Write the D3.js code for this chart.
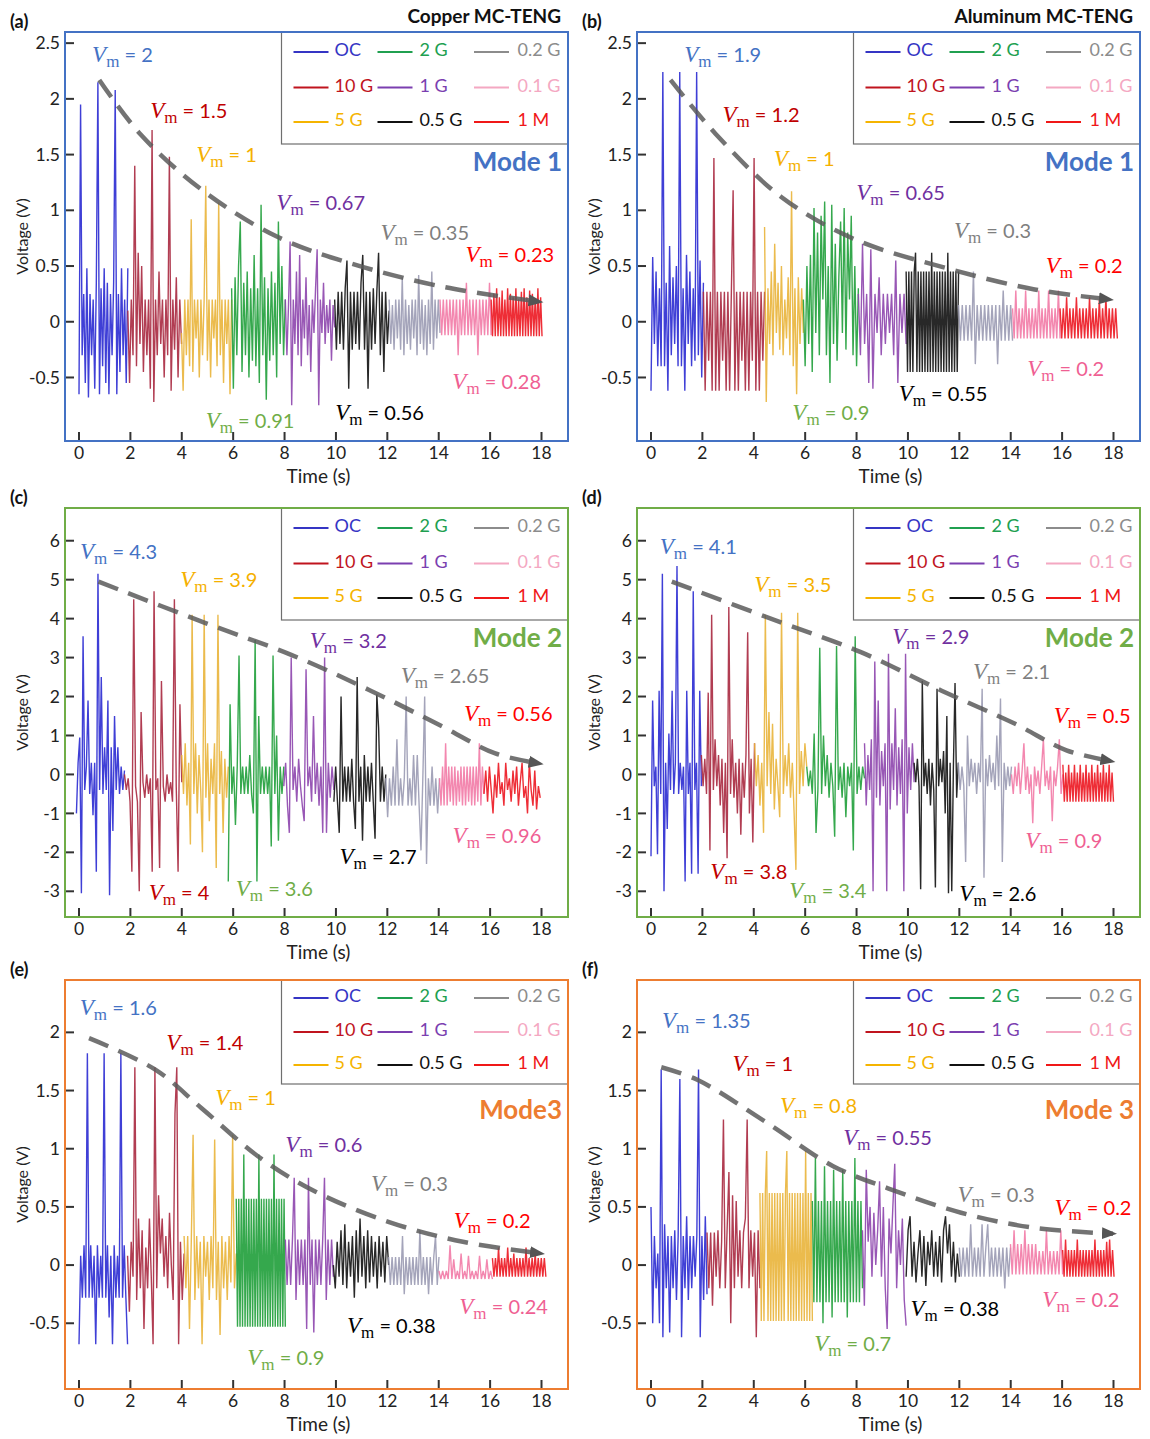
<!DOCTYPE html>
<html>
<head>
<meta charset="utf-8">
<title>MC-TENG voltage</title>
<script src="https://cdnjs.cloudflare.com/ajax/libs/d3/7.8.5/d3.min.js"></script>
<style>
    body { margin: 0; background: #fff; }
    svg text { font-family: 'Lato', 'Open Sans', sans-serif; }
</style>
</head>
<body>
<div id="chart"></div>
<script>
// ---------- shared categories / ticks ----------
const segNames = ["OC", "10 G", "5 G", "2 G", "1 G", "0.5 G", "0.2 G", "0.1 G", "1 M"];
const sigColors = ["#2a2ad2", "#a8283f", "#e9b43a", "#1f9e3a", "#8d45ad", "#111111", "#9a9ab2", "#f27aa6", "#ec1620"];
const legColors = ["#3535c4", "#c0141e", "#f5b400", "#20a050", "#7b3fb0", "#111111", "#8c8c8c", "#f4a8c2", "#f01818"];
const noteColors = ["#4472c4", "#c00000", "#f5b000", "#70ad47", "#7030a0", "#000000", "#7f7f7f", "#ef5f93", "#ff0000"];
const xTicks = [0, 2, 4, 6, 8, 10, 12, 14, 16, 18];
const yTicks1 = [-0.5, 0, 0.5, 1, 1.5, 2, 2.5];
const yTicks2 = [-3, -2, -1, 0, 1, 2, 3, 4, 5, 6];
const yTicks3 = [-0.5, 0, 0.5, 1, 1.5, 2];

// ---------- (a) Copper, Mode 1 ----------
const edgesA = [0, 1.9, 3.99, 5.94, 8.03, 9.95, 12.07, 14.05, 16.04, 18.02];
const sigA = [
    [-0.65, 1.95, -0.3, 0.25, -0.55, 0.48, -0.68, 0.25, -0.3, 0.2, -0.6, 0.35, 2.15, -0.65, 0.3, -0.4, 0.48, -0.55, 0.35, -0.65, 0.25, -0.3, 0.35, 2.08, -0.65, 0.25, -0.45, 0.48, -0.3, 0.2, -0.55, 0.48],
    [0.1, -0.55, 0.2, -0.3, 1.4, -0.4, 0.62, -0.2, 0.5, -0.45, 0.2, -0.3, 0.2, -0.6, 1.72, -0.72, 0.2, -0.3, 0.45, -0.2, 0.2, -0.5, 0.2, -0.3, 1.48, -0.62, 0.2, -0.25, 0.4, -0.5, 0.2, -0.2],
    [-0.1, -0.62, 0.2, -0.3, 0.2, -0.4, 0.92, -0.45, 0.2, -0.15, 0.2, -0.5, 0.2, -0.3, 0.2, 1.22, -0.35, 0.2, -0.5, 0.2, -0.15, 0.2, -0.4, 1.07, -0.3, 0.2, -0.55, 0.2, -0.2, 0.2, -0.65, 0.2],
    [0.3, -0.6, 0.4, -0.3, 0.5, 0.9, -0.45, 0.35, -0.3, 0.45, -0.5, 0.3, -0.35, 0.6, -0.4, 0.3, -0.55, 1.05, -0.3, 0.4, -0.7, 0.3, -0.35, 0.45, -0.3, 0.35, -0.5, 0.9, -0.2, 0.5, -0.3, 0.2],
    [0.2, -0.3, 0.15, 0.72, -0.75, 0.2, -0.2, 0.45, -0.3, 0.6, -0.4, 0.2, -0.15, 0.4, -0.3, 0.15, -0.45, 0.2, -0.1, 0.3, 0.65, -0.75, 0.2, -0.1, 0.35, -0.2, 0.15, -0.1, 0.2, -0.35, 0.15, -0.05],
    [0.2, -0.25, 0.27, -0.2, 0.27, -0.25, 0.3, 0.55, -0.6, 0.27, -0.25, 0.27, -0.2, 0.27, -0.25, 0.35, 0.6, -0.25, 0.27, -0.6, 0.27, -0.25, 0.3, -0.2, 0.27, 0.62, -0.3, 0.27, -0.45, 0.27, -0.2, 0.1],
    [0.2, -0.2, 0.15, -0.25, 0.2, -0.15, 0.2, -0.25, 0.4, -0.3, 0.2, -0.2, 0.15, -0.25, 0.2, -0.15, 0.2, -0.3, 0.42, -0.2, 0.2, -0.25, 0.15, -0.3, 0.2, -0.2, 0.45, -0.25, 0.2, -0.15, 0.2, -0.1],
    [0.2, -0.12, 0.2, -0.12, 0.2, -0.12, 0.2, -0.12, 0.2, -0.12, 0.2, -0.3, 0.2, -0.12, 0.2, -0.12, 0.35, -0.12, 0.2, -0.12, 0.2, -0.12, 0.2, -0.3, 0.2, -0.12, 0.2, -0.12, 0.2, -0.12, 0.35, -0.12],
    [0.2, -0.13, 0.25, -0.13, 0.3, -0.13, 0.22, -0.13, 0.28, -0.13, 0.2, -0.13, 0.3, -0.13, 0.25, -0.13, 0.22, -0.13, 0.3, -0.13, 0.2, -0.13, 0.27, -0.13, 0.3, -0.13, 0.22, -0.13, 0.28, -0.13, 0.25, -0.13, 0.2, -0.13, 0.3, -0.13, 0.22, -0.13]
];
const trendA = [[0.79, 2.17], [2.4, 1.68], [4.86, 1.17], [7.74, 0.76], [10.63, 0.52], [14.24, 0.31], [17.92, 0.18]];
const vmA = ["2", "1.5", "1", "0.91", "0.67", "0.56", "0.35", "0.28", "0.23"];

// ---------- (b) Aluminum, Mode 1 ----------
const edgesB = [0, 2.04, 4.42, 5.93, 8.07, 9.93, 11.97, 14.07, 15.92, 18.15];
const sigB = [
    [-0.62, 0.58, -0.2, 0.45, -0.4, 0.3, -0.4, 2.24, -0.4, 0.35, -0.62, 0.68, -0.3, 0.4, -0.2, 0.5, -0.4, 2.24, -0.4, 0.3, -0.62, 0.6, -0.2, 0.45, -0.4, 0.3, -0.35, 2.24, -0.3, 0.55, -0.5, 0.35],
    [0.27, -0.62, 0.27, -0.35, 0.27, -0.62, 1.47, -0.62, 0.27, -0.62, 0.27, -0.35, 0.27, -0.62, 0.27, -0.62, 0.27, 1.18, -0.62, 0.27, -0.62, 0.27, -0.35, 0.27, -0.62, 0.27, -0.62, 0.27, -0.35, 1.47, -0.62, 0.27, -0.62, 0.27, -0.35, 0.27],
    [0.85, -0.72, 0.3, -0.2, 0.45, -0.3, 0.7, -0.1, 0.35, -0.25, 0.5, -0.3, 0.2, -0.15, 0.4, -0.3, 1.17, -0.4, 0.3, -0.65, 0.4, -0.2, 0.3, -0.1],
    [0.2, -0.4, 0.5, -0.2, 0.6, -0.45, 1.02, -0.1, 0.8, -0.3, 0.95, 0.2, 1.08, -0.3, 0.5, -0.55, 1.05, -0.2, 0.7, -0.35, 0.4, 0.9, -0.1, 1.02, -0.25, 0.8, 0.2, 0.95, -0.3, 0.5, -0.4, 0.3],
    [0.25, -0.3, 0.7, -0.2, 0.25, -0.55, 0.65, -0.6, 0.25, -0.1, 0.4, -0.3, 0.25, -0.2, 0.25, -0.1, 0.25, -0.3, 0.55, -0.55, 0.25, -0.1, 0.25, -0.2],
    [0.45, -0.45, 0.45, -0.45, 0.45, -0.45, 0.45, 0.62, -0.45, 0.45, -0.45, 0.45, -0.45, 0.45, -0.45, 0.45, -0.45, 0.45, -0.45, 0.62, -0.45, 0.45, -0.45, 0.45, -0.45, 0.45, -0.45, 0.45, -0.45, 0.45, -0.45, 0.62, -0.45, 0.45, -0.45, 0.45, -0.45, 0.45, -0.45, 0.45],
    [0.15, -0.17, 0.15, -0.17, 0.15, -0.17, 0.15, -0.17, 0.45, -0.38, 0.15, -0.17, 0.15, -0.17, 0.15, -0.17, 0.15, -0.17, 0.15, -0.17, 0.15, -0.38, 0.15, -0.17, 0.28, -0.17, 0.15, -0.17, 0.15, -0.17],
    [0.12, -0.15, 0.28, -0.15, 0.12, -0.15, 0.12, -0.15, 0.28, -0.15, 0.12, -0.15, 0.12, -0.15, 0.12, -0.15, 0.28, -0.15, 0.12, -0.15, 0.12, -0.15, 0.28, -0.15, 0.12, -0.15, 0.12, -0.15, 0.28, -0.15],
    [0.12, -0.15, 0.12, -0.15, 0.22, -0.15, 0.12, -0.15, 0.12, -0.15, 0.22, -0.15, 0.12, -0.15, 0.12, -0.15, 0.12, -0.15, 0.22, -0.15, 0.12, -0.15, 0.12, -0.15, 0.2, -0.15, 0.12, -0.15, 0.22, -0.15, 0.12, -0.15, 0.12, -0.15, 0.12, -0.15]
];
const trendB = [[0.76, 2.17], [2.5, 1.69], [5.07, 1.12], [7.93, 0.74], [11.36, 0.49], [14.93, 0.29], [17.86, 0.2]];
const vmB = ["1.9", "1.2", "1", "0.9", "0.65", "0.55", "0.3", "0.2", "0.2"];

// ---------- (c) Copper, Mode 2 ----------
const edgesC = [-0.1, 1.77, 4.0, 5.81, 7.97, 9.92, 11.94, 14.03, 15.76, 17.95];
const sigC = [
    [-1.0, 0.3, 0.95, -3.05, 3.55, -0.4, 0.2, 1.9, -0.5, 0.3, -1.05, 0.3, -2.5, 5.15, -0.4, 2.5, -0.5, 0.7, -0.4, 1.9, -3.1, 0.7, -1.45, 1.5, -0.4, 0.7, -0.5, 0.2, -0.4, 0.1],
    [0.0, -0.4, -0.1, -0.7, -2.5, 4.5, -0.3, -0.7, -3.0, 1.6, -0.2, -0.6, 0.0, -0.5, -0.1, -2.5, 4.7, -0.4, -0.1, -2.4, 2.4, -0.3, -0.7, 0.0, -0.5, -0.2, -0.7, 4.5, -0.3, -2.5, 1.8, -0.2],
    [0.5, -0.5, 0.8, -0.8, 0.3, -1.8, 4.1, -0.5, 0.8, -1.0, 0.5, -0.4, -2.0, 4.1, -0.6, 0.8, -1.2, 0.4, -0.5, 0.8, -2.4, 4.1, -0.5, 0.6, -1.5, 0.4, -0.6, 0.2],
    [-2.75, 1.8, -0.5, 0.2, -1.3, 0.2, 3.05, -0.5, 0.2, -0.5, 0.2, -0.5, 0.5, -0.5, -1.0, 3.45, -2.75, 1.5, -0.5, 0.2, -0.5, 0.2, -0.5, 0.2, -1.85, 3.05, -0.5, 1.0, -1.7, 0.2, -0.5, 0.2],
    [-0.3, 0.3, -0.8, -1.5, 3.0, -0.4, 0.2, -0.7, 0.4, -0.3, -0.8, -1.2, 2.7, -0.3, 0.2, -0.7, 1.5, -0.5, 0.3, -0.8, 0.2, -1.5, 3.0, -1.5, 0.3, -0.6, 0.2, -0.4],
    [-0.7, 0.2, -0.7, -1.5, 2.0, -0.7, 0.2, -0.7, 0.2, -0.7, 0.4, -0.7, -1.4, 2.5, -0.7, 0.2, -1.7, 0.5, -0.7, 0.2, -0.7, 0.3, -0.7, -1.65, 2.05, 1.2, -0.7, 0.2, -0.7, 0.0],
    [-0.1, -1.1, -0.1, -0.8, 0.2, -0.8, 0.9, -0.8, -0.1, -0.8, -0.1, 2.0, -0.8, -0.1, -0.8, 0.5, -0.8, 0.5, -0.8, -1.95, -0.1, 2.0, -2.3, -0.1, -0.8, 0.2, -0.8, -0.1, -1.0, -0.1],
    [-0.1, -0.8, 0.2, -0.8, 0.8, -0.8, 0.2, -0.7, 0.2, -0.8, 0.2, -0.8, 0.1, -0.7, 0.2, -0.8, 0.2, -0.8, 0.2, -0.7, 0.2, -0.8, 0.2, -0.8, 0.2, -0.7, 0.8, -0.8, 0.2, -0.5],
    [-0.5, 0.1, -0.7, 0.2, -0.4, -1.0, 0.0, -0.6, 0.3, -0.5, -0.2, -0.8, 0.3, -0.4, -0.1, -0.7, 0.1, -0.5, 0.2, -0.8, -0.2, 0.3, -0.6, -0.3, -1.0, 0.3, -0.4, -0.8, 0.1, -0.9, -0.3, -0.6]
];
const trendC = [[0.76, 4.95], [4.95, 3.88], [8.26, 3.07], [11.29, 2.17], [14.17, 1.22], [16.2, 0.54], [17.93, 0.28]];
const vmC = ["4.3", "4", "3.9", "3.6", "3.2", "2.7", "2.65", "0.96", "0.56"];

// ---------- (d) Aluminum, Mode 2 ----------
const edgesD = [0, 1.96, 4.03, 6.06, 8.31, 10.24, 11.96, 14.03, 16.03, 18.0];
const sigD = [
    [-2.1, 1.9, -0.3, 0.2, -2.05, 2.15, -0.5, 5.15, -3.0, 0.3, -1.4, 1.05, -0.4, 2.15, -0.5, 0.3, 5.35, -0.5, 0.3, -0.4, 0.2, -2.75, 2.15, -0.5, 0.3, -2.55, 4.7, -0.4, 0.3, -2.55, 2.15, -0.3],
    [0.5, -0.3, 0.4, -0.5, 2.1, -1.95, 4.1, -0.4, 0.9, -0.3, 0.5, -0.8, 0.4, -1.5, 0.3, -2.15, 4.3, -0.5, 0.9, -0.6, 0.3, -1.0, 0.4, -1.55, 0.3, -0.6, 0.5, 3.65, -1.0, 0.4, -1.75, 0.8],
    [0.8, -0.3, 0.5, -0.8, 0.3, -1.5, 4.1, -0.3, 1.6, -0.5, 1.3, -0.9, 0.4, -0.3, -1.1, 4.15, -0.5, 0.5, -0.3, 0.8, -0.6, 0.3, -1.0, -2.45, 4.15, -0.5, 0.6, -0.3, 0.8, 0.2],
    [0.2, -0.3, 0.1, -0.5, 1.05, -1.5, -0.4, 3.25, -0.5, 1.0, -0.3, 0.5, -0.6, 0.3, -0.3, -1.6, 3.3, -0.4, 0.2, -0.6, 0.3, -1.1, 0.2, -0.3, 0.3, -1.95, 3.55, -0.5, 0.2, -0.4, 0.2, -0.1],
    [0.8, -0.8, 0.5, -0.4, 0.9, -3.0, 2.9, -0.6, 1.9, -0.8, 0.6, -0.3, 0.8, -3.0, 3.1, -0.9, 0.8, -0.4, 1.7, -0.8, 0.7, -0.5, 0.9, -3.0, 3.1, -1.0, 0.7, -0.4, 0.8, -0.2],
    [0.3, -0.2, 0.4, -0.3, -2.95, 2.4, -0.3, 0.3, -0.5, 0.4, -0.8, 0.3, -0.4, -2.9, 2.2, -0.3, 0.4, -0.2, 0.6, -1.0, 1.5, -3.05, 0.3, -3.0, 0.2, 2.35, -0.6, 0.3],
    [0.3, -0.4, 0.2, -0.3, -2.25, 1.0, -0.3, 0.4, -0.2, 0.3, -0.5, 0.3, -0.2, 2.2, -2.65, 0.4, -0.3, 0.5, -0.2, 0.3, -0.4, 1.0, -0.3, 1.95, -2.25, 0.3, -0.4, 0.2, -0.3, 0.2],
    [0.0, -0.5, 0.2, -0.3, 0.3, -0.5, 0.1, 0.8, -0.4, 0.2, -0.5, 0.0, -1.25, 0.2, -0.3, 0.1, -0.5, 0.2, 0.9, -0.3, 0.1, -0.4, 0.2, -1.2, 0.1, -0.3, 0.2, 0.9, -0.5, 0.0],
    [0.25, -0.7, 0.05, -0.7, 0.25, -0.7, 0.05, -0.7, 0.25, -0.7, 0.05, -0.7, 0.25, -0.7, 0.05, -0.7, 0.25, -0.7, 0.05, -0.7, 0.25, -0.7, 0.05, -0.7, 0.25, -0.7, 0.05, -0.7, 0.25, -0.7, 0.05, -0.7, 0.25, -0.7, 0.05, -0.7]
];
const trendD = [[0.81, 4.95], [5.03, 3.91], [8.17, 3.14], [11.31, 2.15], [14.17, 1.3], [16.17, 0.62], [17.92, 0.34]];
const vmD = ["4.1", "3.8", "3.5", "3.4", "2.9", "2.6", "2.1", "0.9", "0.5"];

// ---------- (e) Copper, Mode 3 ----------
const edgesE = [0, 1.89, 4.09, 6.12, 8.03, 9.9, 12.05, 14.01, 16.09, 18.17];
const sigE = [
    [-0.68, 0.08, -0.28, 0.17, -0.28, 1.82, -0.28, 0.17, -0.28, 0.08, -0.68, 0.17, -0.28, 0.08, -0.28, 1.82, -0.28, 0.17, -0.45, 0.08, -0.68, 0.17, -0.28, 0.08, -0.28, 1.82, -0.28, 0.17, -0.28, -0.68],
    [0.08, -0.4, 0.2, -0.1, 1.7, -0.3, 0.4, -0.2, 0.3, -0.55, 0.15, -0.2, 0.4, -0.1, -0.68, 1.7, -0.2, 0.6, 0.1, 0.4, -0.1, 0.25, -0.2, 0.45, 0.0, -0.3, 1.3, 1.7, -0.68, 0.2, -0.3, 0.1],
    [0.25, -0.2, 0.25, -0.55, 0.2, 1.12, -0.3, 0.25, -0.2, 0.2, -0.68, 0.25, -0.1, 0.2, -0.3, 0.25, -0.2, 1.08, -0.3, 0.2, -0.6, 0.25, -0.2, 0.2, -0.3, 0.25, -0.15, 1.12, -0.2, 0.1],
    [0.57, -0.53, 0.57, -0.53, 0.57, -0.53, 0.95, -0.53, 0.57, -0.53, 0.57, -0.53, 0.57, -0.53, 0.57, -0.53, 0.57, -0.53, 0.95, -0.53, 0.57, -0.53, 0.57, -0.53, 0.57, -0.53, 0.57, -0.53, 0.57, -0.53, 0.95, -0.53, 0.57, -0.53, 0.57, -0.53, 0.57, -0.53, 0.57, -0.53],
    [0.22, -0.17, 0.22, -0.17, 0.22, 0.75, -0.3, 0.22, -0.17, 0.22, -0.17, 0.22, -0.55, 0.75, -0.17, 0.22, -0.58, 0.22, -0.17, 0.22, -0.17, 0.22, 0.75, -0.3, 0.22, -0.17, 0.22, -0.1],
    [0.0, -0.2, 0.2, -0.1, 0.3, -0.17, 0.35, -0.2, 0.2, -0.1, 0.25, -0.28, 0.3, -0.15, 0.4, -0.1, 0.25, -0.2, 0.3, -0.15, 0.25, -0.1, 0.2, -0.2, 0.25, -0.1, 0.2, -0.15, 0.25, 0.0],
    [0.07, -0.17, 0.07, -0.17, 0.07, -0.17, 0.07, -0.17, 0.25, -0.25, 0.07, -0.17, 0.07, -0.17, 0.07, -0.17, 0.07, -0.17, 0.3, -0.17, 0.07, -0.17, 0.07, -0.25, 0.07, -0.17, 0.07, 0.25, -0.17, 0.07],
    [-0.05, -0.12, -0.05, -0.12, -0.05, -0.12, 0.17, -0.12, 0.05, -0.12, -0.05, -0.12, 0.1, -0.12, -0.05, -0.12, 0.08, -0.12, -0.05, -0.12, -0.05, -0.12, 0.08, -0.12, -0.05, -0.12, 0.05, -0.12, -0.05, -0.12],
    [0.06, -0.1, 0.06, -0.1, 0.15, -0.1, 0.06, -0.1, 0.06, -0.1, 0.15, -0.1, 0.06, -0.1, 0.1, -0.1, 0.06, -0.1, 0.06, -0.1, 0.06, -0.1, 0.15, -0.1, 0.06, -0.1, 0.06, -0.1, 0.1, -0.1, 0.06, -0.1, 0.06, -0.1, 0.06, -0.1]
];
const trendE = [[0.39, 1.95], [2.97, 1.68], [4.76, 1.35], [7.06, 0.92], [9.21, 0.63], [12.07, 0.37], [14.94, 0.2], [17.98, 0.1]];
const vmE = ["1.6", "1.4", "1", "0.9", "0.6", "0.38", "0.3", "0.24", "0.2"];

// ---------- (f) Aluminum, Mode 3 ----------
const edgesF = [0, 2.18, 4.24, 6.28, 8.23, 9.93, 12.0, 13.99, 16.02, 18.02];
const sigF = [
    [0.5, -0.5, 0.25, -0.2, 0.1, -0.5, 1.68, -0.62, 0.35, -0.2, 0.25, -0.58, 0.25, -0.2, 0.3, -0.3, 0.25, 1.6, -0.62, 0.25, -0.2, 0.42, -0.3, 0.25, -0.2, 0.25, -0.1, 0.25, 1.68, -0.62, 0.25, -0.3, 0.42, -0.25],
    [0.28, -0.2, 0.28, -0.35, 0.28, -0.1, 0.3, -0.2, 0.2, 1.25, -0.2, 0.3, 0.8, -0.5, 0.6, -0.2, 0.55, -0.1, 0.3, -0.2, 0.28, 0.4, 1.25, -0.2, 0.3, -0.1, 0.28, -0.62, 0.3, -0.2],
    [0.62, -0.48, 0.62, -0.48, 0.62, 0.98, -0.48, 0.62, -0.48, 0.62, -0.48, 0.62, -0.48, 0.62, -0.48, 0.62, -0.48, 0.62, -0.48, 0.62, 0.98, -0.48, 0.62, -0.48, 0.62, -0.48, 0.62, -0.48, 0.62, -0.48, 0.62, -0.48, 0.62, -0.48, 0.98, -0.48, 0.62, -0.48, 0.62, -0.48],
    [0.55, -0.32, 0.92, -0.32, 0.55, -0.32, 0.55, -0.5, 0.85, -0.32, 0.55, -0.32, 0.55, -0.45, 0.82, -0.32, 0.55, -0.32, 0.55, -0.32, 0.82, -0.32, 0.55, -0.45, 0.55, -0.32, 0.55, -0.32, 0.92, -0.32, 0.55, -0.32, 0.55, -0.2],
    [0.3, -0.35, 0.82, 0.2, 0.5, -0.1, 0.45, 0.0, 0.3, 0.72, -0.1, 0.5, -0.2, -0.55, 0.4, 0.1, 0.5, 0.87, -0.2, 0.3, 0.0, 0.4, -0.3, -0.52],
    [-0.1, 0.3, 0.42, -0.1, 0.2, -0.15, 0.1, 0.3, -0.1, 0.25, -0.18, 0.2, 0.0, 0.3, -0.1, 0.2, -0.1, 0.25, -0.15, 0.3, 0.42, 0.1, 0.35, -0.1, 0.2, -0.15, 0.1, -0.1],
    [0.15, -0.1, 0.15, -0.1, 0.15, -0.1, 0.35, -0.1, 0.15, -0.1, 0.15, -0.1, 0.35, -0.1, 0.15, 0.35, -0.1, 0.15, -0.1, 0.15, -0.1, 0.15, -0.1, 0.15, -0.2, 0.15, -0.1, 0.15],
    [0.18, -0.08, 0.3, -0.08, 0.18, -0.08, 0.18, -0.08, 0.3, -0.08, 0.18, -0.08, 0.18, -0.08, 0.18, -0.08, 0.12, -0.08, 0.12, -0.08, 0.3, -0.08, 0.12, -0.08, 0.12, -0.08, 0.12, -0.08, 0.3, -0.08],
    [0.13, -0.1, 0.22, -0.1, 0.13, -0.1, 0.13, -0.1, 0.13, -0.1, 0.22, -0.1, 0.13, -0.1, 0.13, -0.1, 0.13, -0.1, 0.13, -0.1, 0.13, -0.1, 0.22, -0.1, 0.13, -0.1, 0.13, -0.1, 0.13, -0.1, 0.2, -0.1, 0.22, -0.1, 0.13, -0.1]
];
const trendF = [[0.4, 1.7], [1.82, 1.59], [4.53, 1.22], [7.09, 0.85], [9.22, 0.66], [12.07, 0.45], [14.92, 0.32], [17.98, 0.27]];
const vmF = ["1.35", "1", "0.8", "0.7", "0.55", "0.38", "0.3", "0.2", "0.2"];

// ---------- layout (label anchors in data units, same order as segNames) ----------
const noteAtA = [[0.51, 2.33], [2.77, 1.83], [4.56, 1.43], [4.93, -0.95], [7.68, 1.0], [9.97, -0.88], [11.73, 0.73], [14.53, -0.6], [15.04, 0.54]];
const noteAtB = [[1.29, 2.33], [2.78, 1.79], [4.78, 1.40], [5.5, -0.88], [7.99, 1.09], [9.64, -0.71], [11.79, 0.75], [14.64, -0.49], [15.36, 0.44]];
const noteAtC = [[0.04, 5.53], [2.71, -3.23], [3.94, 4.81], [6.1, -3.13], [8.98, 3.25], [10.14, -2.31], [12.52, 2.35], [14.54, -1.77], [14.98, 1.37]];
const noteAtD = [[0.34, 5.67], [2.31, -2.69], [4.02, 4.69], [5.38, -3.18], [9.39, 3.36], [12.0, -3.26], [12.53, 2.46], [14.57, -1.9], [15.67, 1.33]];
const noteAtE = [[0.03, 2.15], [3.4, 1.85], [5.3, 1.38], [6.55, -0.86], [8.03, 0.97], [10.43, -0.58], [11.36, 0.64], [14.8, -0.42], [14.58, 0.32]];
const noteAtF = [[0.43, 2.04], [3.17, 1.67], [5.02, 1.31], [6.35, -0.74], [7.48, 1.03], [10.1, -0.44], [11.93, 0.54], [15.23, -0.36], [15.7, 0.43]];

const colX = [65, 637], rowY = [32, 508, 980];
const frameW = 503, frameH = 409;
const rowColors = ["#4472c4", "#70ad47", "#ed7d31"];
const rowDomains = [[-1.07, 2.6], [-3.66, 6.84], [-1.065, 2.45]];
const rowTicks = [yTicks1, yTicks2, yTicks3];
const legendH = [112, 112, 104];

const panels = [
    { tag: "(a)", col: 0, row: 0, title: "Copper MC-TENG", mode: "Mode 1", edges: edgesA, sig: sigA, trend: trendA, vm: vmA, at: noteAtA },
    { tag: "(b)", col: 1, row: 0, title: "Aluminum MC-TENG", mode: "Mode 1", edges: edgesB, sig: sigB, trend: trendB, vm: vmB, at: noteAtB },
    { tag: "(c)", col: 0, row: 1, title: "", mode: "Mode 2", edges: edgesC, sig: sigC, trend: trendC, vm: vmC, at: noteAtC },
    { tag: "(d)", col: 1, row: 1, title: "", mode: "Mode 2", edges: edgesD, sig: sigD, trend: trendD, vm: vmD, at: noteAtD },
    { tag: "(e)", col: 0, row: 2, title: "", mode: "Mode3", edges: edgesE, sig: sigE, trend: trendE, vm: vmE, at: noteAtE },
    { tag: "(f)", col: 1, row: 2, title: "", mode: "Mode 3", edges: edgesF, sig: sigF, trend: trendF, vm: vmF, at: noteAtF }
];

const svg = d3.select("#chart").append("svg")
    .attr("width", 1150)
    .attr("height", 1439);

svg.append("defs").append("marker")
    .attr("id", "arrow")
    .attr("markerUnits", "userSpaceOnUse")
    .attr("markerWidth", 16).attr("markerHeight", 14)
    .attr("refX", 11).attr("refY", 7)
    .attr("orient", "auto")
    .append("path")
    .attr("d", "M0,1 L15,7 L0,13 Z")
    .attr("fill", "#555");

panels.forEach(p => {
    const left = colX[p.col], top = rowY[p.row];
    const x = d3.scaleLinear().domain([0, 18]).range([left + 14, left + frameW - 26.5]);
    const y = d3.scaleLinear().domain(rowDomains[p.row]).range([top + frameH, top]);
    const g = svg.append("g");

    // panel tag and title
    g.append("text").attr("x", left - 55).attr("y", top - 4)
        .attr("font-size", 18).attr("font-weight", "bold").attr("fill", "#111").text(p.tag);
    if (p.title) {
        g.append("text").attr("x", left + frameW - 7).attr("y", top - 9)
            .attr("text-anchor", "end").attr("font-size", 19).attr("font-weight", "bold")
            .attr("fill", "#111").text(p.title);
    }

    // signals
    const line = d3.line().x(d => x(d[0])).y(d => y(d[1]));
    p.sig.forEach((vals, k) => {
        const t0 = p.edges[k], t1 = p.edges[k + 1];
        const pts = vals.map((v, i) => [t0 + i * (t1 - t0) / (vals.length - 1), v]);
        g.append("path").attr("d", line(pts))
            .attr("fill", "none").attr("stroke", sigColors[k])
            .attr("stroke-width", 1.4).attr("stroke-opacity", 0.9);
    });

    // trend (dashed arrow)
    const trendLine = d3.line().x(d => x(d[0])).y(d => y(d[1])).curve(d3.curveCatmullRom.alpha(0.5));
    g.append("path").attr("d", trendLine(p.trend))
        .attr("fill", "none").attr("stroke", "#5a5a5a").attr("stroke-opacity", 0.85)
        .attr("stroke-width", 4.5).attr("stroke-dasharray", "21,11")
        .attr("marker-end", "url(#arrow)");

    // Vm notes
    p.vm.forEach((val, k) => {
        const t = g.append("text")
            .attr("x", x(p.at[k][0])).attr("y", y(p.at[k][1]))
            .attr("fill", noteColors[k]);
        t.append("tspan").attr("font-family", "'Liberation Serif', serif")
            .attr("font-style", "italic").attr("font-size", 23).text("V");
        t.append("tspan").attr("font-family", "'Liberation Serif', serif")
            .attr("font-size", 17).attr("dy", 5).text("m");
        t.append("tspan").attr("font-size", 20).attr("dy", -5).text("\u00a0=\u00a0" + val);
    });

    // legend
    const lx = left + 216.5, lh = legendH[p.row];
    g.append("rect").attr("x", lx).attr("y", top).attr("width", left + frameW - lx).attr("height", lh)
        .attr("fill", "#fff").attr("stroke", "#6f6f6f").attr("stroke-width", 1.2);
    const lineX = [12, 96, 192.5], textX = [53, 138, 236], rowB = [24, 59.5, 94];
    segNames.forEach((name, k) => {
        const c = Math.floor(k / 3), r = k % 3;
        const by = top + rowB[r] - (p.row === 2 ? 2 + r * 1.5 : 0);
        g.append("line").attr("x1", lx + lineX[c]).attr("x2", lx + lineX[c] + 35)
            .attr("y1", by - 4).attr("y2", by - 4)
            .attr("stroke", legColors[k]).attr("stroke-width", 2);
        g.append("text").attr("x", lx + textX[c]).attr("y", by)
            .attr("font-size", 18).attr("fill", legColors[k]).text(name);
    });

    // mode label
    g.append("text").attr("x", left + frameW - 6).attr("y", top + 139)
        .attr("text-anchor", "end").attr("font-size", 26).attr("font-weight", "bold")
        .attr("fill", rowColors[p.row]).text(p.mode);

    // ticks (inward) and labels
    const ticks = g.append("g").attr("stroke", "#333").attr("stroke-width", 2);
    xTicks.forEach(v => {
        ticks.append("line").attr("x1", x(v)).attr("x2", x(v))
            .attr("y1", top + frameH).attr("y2", top + frameH - 9);
    });
    rowTicks[p.row].forEach(v => {
        ticks.append("line").attr("x1", left).attr("x2", left + 9)
            .attr("y1", y(v)).attr("y2", y(v));
    });
    g.selectAll(null).data(xTicks).join("text")
        .attr("x", d => x(d)).attr("y", top + frameH + 18)
        .attr("text-anchor", "middle").attr("font-size", 17.5).attr("fill", "#222")
        .text(d => d);
    g.selectAll(null).data(rowTicks[p.row]).join("text")
        .attr("x", left - 5).attr("y", d => y(d)).attr("dy", "0.35em")
        .attr("text-anchor", "end").attr("font-size", 17.5).attr("fill", "#222")
        .text(d => d);

    // axis titles
    g.append("text").attr("x", left + frameW / 2 + 2).attr("y", top + frameH + 42)
        .attr("text-anchor", "middle").attr("font-size", 19).attr("fill", "#222").text("Time (s)");
    g.append("text").attr("transform", `translate(${left - 43},${top + frameH / 2}) rotate(-90)`)
        .attr("text-anchor", "middle").attr("dy", "0.35em").attr("font-size", 16).attr("fill", "#222")
        .text("Voltage (V)");

    // frame
    g.append("rect").attr("x", left).attr("y", top).attr("width", frameW).attr("height", frameH)
        .attr("fill", "none").attr("stroke", rowColors[p.row]).attr("stroke-width", 2);
});
</script>
</body>
</html>
